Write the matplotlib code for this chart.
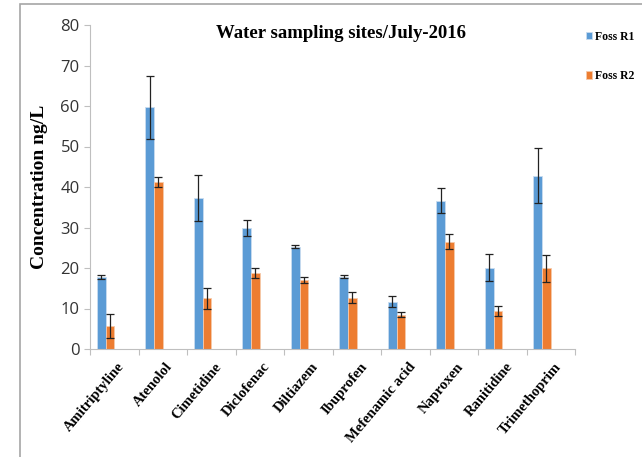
import numpy as np
import matplotlib.pyplot as plt
from matplotlib.patches import Rectangle

drugs = ["Amitriptyline", "Atenolol", "Cimetidine", "Diclofenac", "Diltiazem",
         "Ibuprofen", "Mefenamic acid", "Naproxen", "Ranitidine", "Trimethoprim"]
r1 = [17.7, 59.7, 37.2, 29.9, 25.3, 17.9, 11.7, 36.6, 20.1, 42.8]
r1_err = [0.5, 7.8, 5.7, 1.9, 0.4, 0.3, 1.3, 3.1, 3.3, 6.8]
r2 = [5.7, 41.2, 12.5, 18.7, 17.1, 12.7, 8.5, 26.5, 9.4, 19.9]
r2_err = [2.9, 1.2, 2.6, 1.2, 0.8, 1.4, 0.6, 1.8, 1.3, 3.4]

serif = "Liberation Serif"
fig = plt.figure(figsize=(6.42, 4.57), dpi=100)
ax = fig.add_axes([90/642, 1-349/457, 485/642, 324/457])

# frame line around chart area (top and left visible)
fig.patches.append(Rectangle((20/642, -0.1), 1.2, 1-4/457+0.1, transform=fig.transFigure,
                             fill=False, edgecolor="#A6A6A6", lw=1.2))

x = np.arange(len(drugs))
w = 0.18
ax.bar(x - 0.27 + 0.5, r1, w, color="#5B9BD5", edgecolor="#C9DCEF", lw=0.6,
       yerr=r1_err, capsize=3, error_kw=dict(ecolor="#222222", elinewidth=0.9, capthick=0.9),
       label="Foss R1")
ax.bar(x - 0.09 + 0.5, r2, w, color="#ED7D31", edgecolor="#F6C9AA", lw=0.6,
       yerr=r2_err, capsize=3, error_kw=dict(ecolor="#222222", elinewidth=0.9, capthick=0.9),
       label="Foss R2")

ax.set_xlim(0, len(drugs))
ax.set_ylim(0, 80)
ax.set_yticks(range(0, 81, 10))
ax.set_xticks(np.arange(len(drugs) + 1))
ax.set_xticklabels([])
for i, d in enumerate(drugs):
    ax.text(i + 0.56, -2.8, d, rotation=50, ha="right", va="top", rotation_mode="anchor",
            fontsize=10.5, fontweight="bold", family=serif)

for s in ["top", "right"]:
    ax.spines[s].set_visible(False)
for s in ["left", "bottom"]:
    ax.spines[s].set_color("#BFBFBF")
ax.tick_params(axis="both", colors="#BFBFBF", length=4, labelcolor="#333333", labelsize=12)
for t in ax.get_yticklabels():
    t.set_family("Open Sans")

ax.set_ylabel("Concentration ng/L", fontsize=14, fontweight="bold", family=serif, labelpad=9)
fig.text(341/642, 1-33/457, "Water sampling sites/July-2016", ha="center", va="center",
         fontsize=13.5, fontweight="bold", family=serif)

leg = fig.legend(loc="upper left", bbox_to_anchor=(586/642, 1-31/457), frameon=False,
                 prop=dict(family=serif, weight="bold", size=8.5), handlelength=0.55,
                 handleheight=0.55, handletextpad=0.25, labelspacing=2.3, borderaxespad=0,
                 borderpad=0)

fig.savefig("out.png", dpi=100)
